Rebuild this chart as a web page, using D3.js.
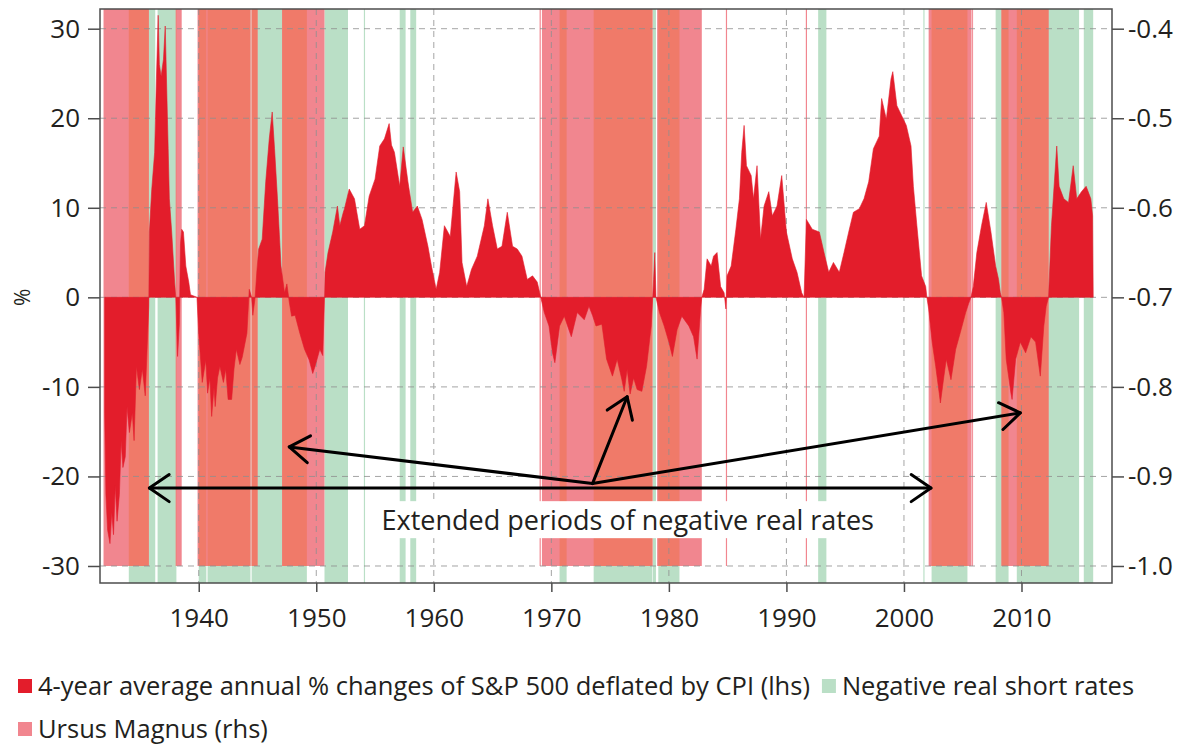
<!DOCTYPE html>
<html>
<head>
<meta charset="utf-8">
<script src="https://cdn.jsdelivr.net/npm/d3@7"></script>
<style>
  body { margin: 0; background: #fff; }
  svg { font-family: "Open Sans", sans-serif; }
</style>
</head>
<body>
<svg width="1180" height="744"></svg>
<script>
// 4-year avg annual % change of S&P 500 deflated by CPI (lhs), [year, %]
const sp500 = [
  [1932.0,-13],[1932.1,-22],[1932.25,-26],[1932.45,-27.5],[1932.6,-24],[1932.75,-26.5],[1932.9,-21],
  [1933.05,-25],[1933.25,-22],[1933.4,-16],[1933.55,-19],[1933.75,-17.8],[1933.9,-12.2],[1934.1,-15.1],
  [1934.35,-12.9],[1934.5,-16],[1934.7,-7.7],[1934.95,-10.3],[1935.2,-8],[1935.45,-11],[1935.6,-6],
  [1935.75,-1],[1935.8,7.3],[1936.0,12],[1936.25,16.2],[1936.4,24.4],[1936.55,31.5],[1936.65,26],
  [1936.8,24.7],[1937.0,26.6],[1937.15,30.3],[1937.3,22],[1937.4,16.6],[1937.5,11],[1937.7,7.3],
  [1937.95,1.7],[1938.05,0],[1938.2,-6.6],[1938.35,-3],[1938.45,6],[1938.55,7.6],[1938.7,7.3],
  [1938.9,3.5],[1939.15,1.7],[1939.3,0.3],[1939.85,0],[1940.0,-4],[1940.3,-9.5],[1940.6,-7],
  [1940.75,-10.7],[1940.95,-9],[1941.1,-13.3],[1941.3,-10],[1941.4,-12.2],[1941.6,-9],[1941.8,-7.7],
  [1942.1,-9.5],[1942.3,-8],[1942.5,-11.4],[1942.8,-11.4],[1943.0,-8],[1943.2,-5.8],[1943.5,-7.5],
  [1943.7,-6.7],[1944.1,-4],[1944.3,0.9],[1944.5,0],[1944.6,-2],[1944.8,0],[1944.95,3],[1945.1,5.4],
  [1945.4,6.5],[1945.7,12.9],[1946.0,17.7],[1946.25,20.7],[1946.45,16.6],[1946.7,11],[1947.0,3.5],
  [1947.3,0.5],[1947.5,1.5],[1947.7,-0.5],[1947.9,-2.1],[1948.2,-2],[1948.6,-4],[1949.0,-5.8],
  [1949.4,-7],[1949.7,-8.5],[1949.9,-7.7],[1950.3,-5.8],[1950.55,-6.5],[1950.7,0],[1950.75,2.8],
  [1951.0,5],[1951.4,7.3],[1951.8,10.2],[1952.0,8],[1952.3,9.5],[1952.4,9.9],[1952.8,12.1],
  [1953.25,11],[1953.7,7.6],[1954.1,8],[1954.5,11.3],[1955.0,13.2],[1955.4,16.9],[1955.8,17.7],
  [1956.2,19.4],[1956.4,17],[1956.65,16.2],[1957.1,12.4],[1957.4,16.8],[1957.8,12.9],[1958.2,9.5],
  [1958.6,10.2],[1959.0,8.7],[1959.5,5.7],[1959.8,3.5],[1960.2,0.9],[1960.5,2.8],[1960.9,8],
  [1961.4,6.8],[1961.9,14],[1962.2,11.8],[1962.4,3.9],[1962.8,1.2],[1963.2,3.1],[1963.7,4.6],
  [1964.3,8],[1964.6,11],[1965.0,8],[1965.4,5.4],[1965.8,5.7],[1966.25,9.5],[1966.7,5.7],
  [1967.1,5.4],[1967.5,4.6],[1967.95,2],[1968.4,2.4],[1968.8,1.7],[1969.1,0],[1969.4,-1.7],
  [1969.8,-3.2],[1970.1,-6.2],[1970.3,-7.3],[1970.7,-3.2],[1971.1,-2.1],[1971.7,-4.4],[1972.2,-1.7],
  [1972.8,-2.5],[1973.2,-1],[1973.5,-2],[1973.8,-3.2],[1974.3,-3],[1974.7,-6.9],[1975.2,-8.8],
  [1975.6,-6.9],[1976.0,-9.2],[1976.2,-10.5],[1976.45,-8],[1976.7,-10.8],[1977.0,-9],[1977.3,-10.3],
  [1977.7,-10.5],[1978.1,-7.7],[1978.5,-3.2],[1978.7,2],[1978.8,5],[1978.9,0],[1979.2,-1.7],
  [1979.6,-3.2],[1980.0,-5],[1980.3,-6.6],[1980.7,-3.6],[1981.1,-2.1],[1981.7,-3.2],[1982.1,-4.4],
  [1982.4,-6.9],[1982.7,-1.3],[1982.8,0],[1983.0,0.9],[1983.25,4.3],[1983.6,3.5],[1983.8,4.6],
  [1984.1,5],[1984.4,1.2],[1984.7,0.5],[1984.85,-1.3],[1984.95,2.4],[1985.3,3.5],[1985.7,7.6],
  [1986.0,11],[1986.2,16.2],[1986.4,19.2],[1986.6,14.7],[1987.0,13.6],[1987.2,11],[1987.5,14.7],
  [1987.8,6.5],[1988.1,10.2],[1988.5,11.8],[1988.8,9.1],[1989.2,10.2],[1989.6,13.6],[1990.0,7.3],
  [1990.5,4.3],[1990.9,2.8],[1991.3,0.5],[1991.5,0],[1991.7,8.7],[1992.2,7.6],[1992.8,7.3],
  [1993.2,5],[1993.6,2.8],[1994.0,3.9],[1994.5,2.8],[1994.9,5],[1995.3,7.3],[1995.7,9.5],
  [1996.2,9.9],[1996.6,11],[1997.0,12.9],[1997.4,16.6],[1997.9,18],[1998.1,22.2],[1998.5,19.9],
  [1998.9,24.4],[1999.05,25.2],[1999.4,21.4],[1999.8,20.3],[2000.2,19.2],[2000.6,16.9],[2000.8,12.4],
  [2001.1,8],[2001.5,2.4],[2001.85,1.2],[2001.95,0],[2002.1,-1.3],[2002.4,-5],[2002.7,-7.7],
  [2003.0,-10.7],[2003.1,-11.8],[2003.4,-8.8],[2003.6,-6.9],[2004.0,-9.2],[2004.4,-5.8],[2004.8,-3.9],
  [2005.25,-1.7],[2005.5,-0.7],[2005.7,0],[2005.9,1.2],[2006.2,5],[2006.6,8],[2007.0,10.6],
  [2007.4,7.3],[2007.8,3.5],[2008.05,2],[2008.2,0.5],[2008.3,0],[2008.5,-1.7],[2008.7,-6.9],
  [2009.1,-10.7],[2009.2,-11.4],[2009.5,-6.9],[2009.9,-5],[2010.35,-6.2],[2010.8,-4.4],[2011.2,-5],
  [2011.6,-8.8],[2011.9,-3.2],[2012.1,-1],[2012.3,0],[2012.55,8],[2013.0,16.9],[2013.2,12.4],
  [2013.6,11],[2014.0,10.6],[2014.4,14.7],[2014.7,11],[2015.1,11.8],[2015.5,12.4],[2015.9,11],
  [2016.05,9.1],[2016.1,0]
];

// Ursus Magnus periods (rhs bars), [start, end]
const ursusPeriods = [
  [1931.9,1935.75],[1938.05,1938.55],[1939.9,1944.4],[1944.5,1945.0],[1947.1,1950.7],
  [1969.0,1969.1],[1969.2,1978.6],[1979.0,1982.8],[1984.85,1984.95],[1991.65,1991.75],
  [2002.1,2005.75],[2005.8,2005.88],[2008.3,2012.3]
];

// Negative real short rates periods, [start, end]
const negRatePeriods = [
  [1934.05,1936.3],[1936.5,1938.1],[1940.0,1940.65],[1940.75,1944.4],[1944.5,1949.2],
  [1950.7,1952.7],[1954.05,1954.15],[1957.1,1957.6],[1958.0,1958.5],[1970.7,1971.3],
  [1973.6,1978.6],[1978.65,1978.9],[1979.1,1980.9],[1992.7,1993.4],[2001.65,2001.75],
  [2002.35,2005.4],[2007.8,2008.9],[2009.6,2014.9],[2015.3,2016.1]
];

const lhsTicks = [-30, -20, -10, 0, 10, 20, 30];
const rhsTicks = [-1.0, -0.9, -0.8, -0.7, -0.6, -0.5, -0.4];
const yearTicks = [1940, 1950, 1960, 1970, 1980, 1990, 2000, 2010];

// annotation: hub and arrow tips as [year, %]
const annotationText = "Extended periods of negative real rates";
const arrowHub = [1973.5, -20.8];
const arrowTips = [[1947.7, -16.7], [1976.45, -11.1], [2009.9, -12.9]];
const spanArrow = [[1935.8, -21.3], [2002.3, -21.3]];
const textPos = [1976.5, -26.0];

const legendItems = [
  { label: "4-year average annual % changes of S&P 500 deflated by CPI (lhs)", color: "#e31d2b" },
  { label: "Negative real short rates", color: "#badfc6" },
  { label: "Ursus Magnus (rhs)", color: "#f1868f" }
];

const red = "#e31d2b", pink = "#f1868f", salmon = "#f07a69", green = "#badfc6";

const svg = d3.select("svg");
const frame = { left: 100, right: 1112, top: 9, bottom: 583 };

const x = d3.scaleLinear().domain([1931.6, 2017.7]).range([frame.left, frame.right]);
const y = d3.scaleLinear().domain([-31.9, 32.2]).range([frame.bottom, frame.top]);
const yR = d3.scaleLinear().domain([-31.9 / 100 - 0.7, 32.2 / 100 - 0.7]).range([frame.bottom, frame.top]);

const plot = svg.append("g");

// green bands, full height
plot.selectAll(".neg").data(negRatePeriods).enter().append("rect")
  .attr("x", d => x(d[0]))
  .attr("width", d => x(d[1]) - x(d[0]))
  .attr("y", frame.top)
  .attr("height", frame.bottom - frame.top)
  .attr("fill", green);

// pink bars from -1.0 (rhs) upward
plot.selectAll(".ursus").data(ursusPeriods).enter().append("rect")
  .attr("x", d => x(d[0]))
  .attr("width", d => x(d[1]) - x(d[0]))
  .attr("y", frame.top)
  .attr("height", yR(-1.0) - frame.top)
  .attr("fill", pink);

// where both overlap the colour turns salmon
const overlaps = [];
ursusPeriods.forEach(u => negRatePeriods.forEach(n => {
  const a = Math.max(u[0], n[0]), b = Math.min(u[1], n[1]);
  if (b > a) overlaps.push([a, b]);
}));
plot.selectAll(".both").data(overlaps).enter().append("rect")
  .attr("x", d => x(d[0]))
  .attr("width", d => x(d[1]) - x(d[0]))
  .attr("y", frame.top)
  .attr("height", yR(-1.0) - frame.top)
  .attr("fill", salmon);

// dashed grid
const grid = svg.append("g").attr("stroke", "#8f8f8f").attr("stroke-width", 1)
  .attr("stroke-dasharray", "6,5").attr("opacity", 0.8);
grid.selectAll(".h").data(lhsTicks).enter().append("line")
  .attr("x1", frame.left).attr("x2", frame.right)
  .attr("y1", d => y(d)).attr("y2", d => y(d));
grid.selectAll(".v").data(yearTicks).enter().append("line")
  .attr("y1", frame.top).attr("y2", frame.bottom)
  .attr("x1", d => x(d)).attr("x2", d => x(d));

// S&P area
const area = d3.area()
  .x(d => x(d[0]))
  .y0(y(0))
  .y1(d => y(d[1]));
svg.append("path").datum(sp500)
  .attr("d", area)
  .attr("fill", red)
  .attr("stroke", red)
  .attr("stroke-width", 0.6);

// annotation text with white box
const label = svg.append("text")
  .attr("x", x(textPos[0])).attr("y", y(textPos[1]))
  .attr("text-anchor", "middle")
  .attr("font-size", 27)
  .attr("fill", "#231f20")
  .text(annotationText);
const bb = label.node().getBBox();
svg.insert("rect", "text")
  .attr("x", bb.x - 10).attr("y", bb.y)
  .attr("width", bb.width + 20).attr("height", bb.height)
  .attr("fill", "#fff");

// arrows
const arrows = svg.append("g").attr("stroke", "#000").attr("stroke-width", 3)
  .attr("fill", "none").attr("stroke-linecap", "round").attr("stroke-linejoin", "round");

function head(from, to) {
  const x0 = x(from[0]), y0 = y(from[1]), x1 = x(to[0]), y1 = y(to[1]);
  const ang = Math.atan2(y1 - y0, x1 - x0), len = 24, spread = 0.6;
  const p = d3.path();
  p.moveTo(x1 - len * Math.cos(ang - spread), y1 - len * Math.sin(ang - spread));
  p.lineTo(x1, y1);
  p.lineTo(x1 - len * Math.cos(ang + spread), y1 - len * Math.sin(ang + spread));
  return p.toString();
}

arrows.append("line")
  .attr("x1", x(spanArrow[0][0])).attr("y1", y(spanArrow[0][1]))
  .attr("x2", x(spanArrow[1][0])).attr("y2", y(spanArrow[1][1]));
arrows.append("path").attr("d", head(spanArrow[1], spanArrow[0]));
arrows.append("path").attr("d", head(spanArrow[0], spanArrow[1]));

arrowTips.forEach(t => {
  arrows.append("line")
    .attr("x1", x(arrowHub[0])).attr("y1", y(arrowHub[1]))
    .attr("x2", x(t[0])).attr("y2", y(t[1]));
  arrows.append("path").attr("d", head(arrowHub, t));
});

// axes
const axisColor = "#4d4d4d";
function styleAxis(g) {
  g.select(".domain").remove();
  g.selectAll(".tick line").attr("stroke", axisColor).attr("stroke-width", 1.5);
  g.selectAll(".tick text").attr("fill", "#231f20").attr("font-size", 26)
    .attr("font-family", "'Open Sans', sans-serif");
}

svg.append("g").attr("transform", `translate(${frame.left},0)`)
  .call(d3.axisLeft(y).tickValues(lhsTicks).tickSize(12).tickPadding(8).tickFormat(d => String(d)))
  .call(styleAxis);

svg.append("g").attr("transform", `translate(${frame.right},0)`)
  .call(d3.axisRight(yR).tickValues(rhsTicks).tickSize(12).tickPadding(4).tickFormat(d => d.toFixed(1)))
  .call(styleAxis);

svg.append("g").attr("transform", `translate(0,${frame.bottom})`)
  .call(d3.axisBottom(x).tickValues(yearTicks).tickSize(9).tickPadding(17).tickFormat(d => String(d)))
  .call(styleAxis);

svg.append("rect")
  .attr("x", frame.left).attr("y", frame.top)
  .attr("width", frame.right - frame.left).attr("height", frame.bottom - frame.top)
  .attr("fill", "none").attr("stroke", axisColor).attr("stroke-width", 1.5);

svg.append("text")
  .attr("transform", `translate(30,${y(0)}) rotate(-90)`)
  .attr("text-anchor", "middle")
  .attr("font-size", 21)
  .attr("fill", "#231f20")
  .text("%");

// legend: two rows, second item follows the first on row one
const legend = svg.append("g");
const rows = [686, 729];
let cursor = 18;
legendItems.forEach((d, i) => {
  const row = i < 2 ? rows[0] : rows[1];
  if (i === 2) cursor = 18;
  legend.append("rect").attr("x", cursor).attr("y", row - 7).attr("width", 14).attr("height", 14)
    .attr("fill", d.color);
  const t = legend.append("text").attr("x", cursor + 20).attr("y", row).attr("dy", "0.35em")
    .attr("font-size", 25.5).attr("fill", "#231f20").text(d.label);
  cursor += 20 + t.node().getComputedTextLength() + 12;
});
</script>
</body>
</html>
